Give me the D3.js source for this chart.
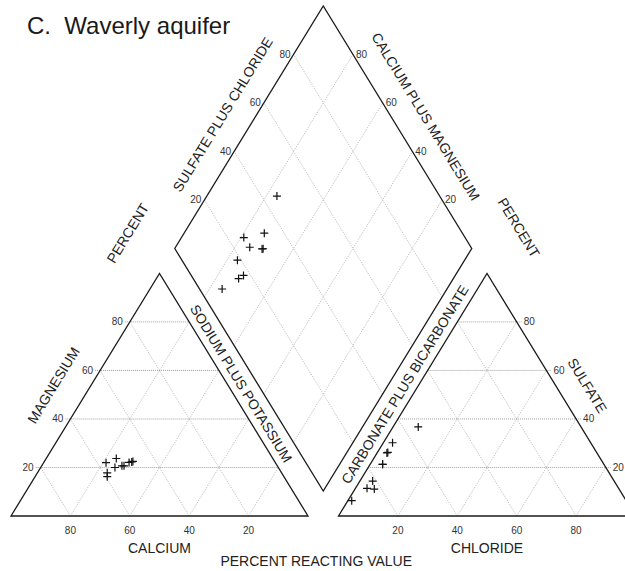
<!DOCTYPE html>
<html>
<head>
<meta charset="utf-8">
<script src="https://cdn.jsdelivr.net/npm/d3@7"></script>
<style>
  body { margin: 0; background: #fff; }
  svg { display: block; font-family: "Liberation Sans", Arial, sans-serif; }
</style>
</head>
<body>
<svg id="chart" width="625" height="571"></svg>
<script>
// Waverly aquifer samples, percent of total milliequivalents per liter
const calcium     = [52.7, 52.3, 57.0, 55.0, 47.7, 48.2, 58.7, 49.2, 51.6, 59.5];
const magnesium   = [23.7, 20.7, 22.0, 20.0, 22.5, 22.3, 17.8, 22.1, 20.7, 16.2];
const sodium      = [23.6, 27.0, 21.0, 25.0, 29.8, 29.5, 23.5, 28.7, 27.7, 24.3];
const bicarbonate = [54.8, 66.7, 74.5, 74.5, 70.3, 70.7, 81.3, 82.4, 84.7, 92.4];
const sulfate     = [36.7, 30.2, 21.3, 21.3, 26.2, 26.0, 14.4, 11.1, 11.4, 6.3];
const chloride    = [8.5, 3.1, 4.2, 4.2, 3.5, 3.3, 4.3, 6.5, 3.9, 1.3];

const gridTicks = [20, 40, 60, 80];

const H = Math.sqrt(3) / 2;
const GAP = 0.1027;          // space between the two triangles, in triangle sides
const OX = 1 + GAP;          // left corner of the anion triangle

const x = d3.scaleLinear().domain([0, 2 + GAP]).range([11, 11 + 297 * (2 + GAP)]);
const y = d3.scaleLinear().domain([0, H]).range([516, 273.4]);

const svg = d3.select('#chart');
svg.append('rect').attr('width', 625).attr('height', 571).attr('fill', '#fff');

function px(p) { return [x(p[0]), y(p[1])]; }

function cationXY(ca, mg, na) {
    const s = ca + mg + na;
    return px([(na + mg / 2) / s, (mg / s) * H]);
}
function anionXY(hco3, so4, cl) {
    const s = hco3 + so4 + cl;
    return px([OX + (cl + so4 / 2) / s, (so4 / s) * H]);
}
// a = sulfate plus chloride, c = calcium plus magnesium (fractions)
function diamondModel(a, c) {
    return [1 + GAP / 2 + 0.5 * (a - c), GAP * H + (a + c) * H];
}
function diamondXY(a, c) { return px(diamondModel(a, c)); }

const line = d3.line();

// --- grid lines
let gridH = [], gridD = [];
gridTicks.forEach(function(t) {
    const f = t / 100;
    // cation triangle
    gridH.push([px([f / 2, f * H]), px([1 - f / 2, f * H])]);
    gridD.push([px([f, 0]), px([f + (1 - f) / 2, (1 - f) * H])]);
    gridD.push([px([1 - f, 0]), px([(1 - f) / 2, (1 - f) * H])]);
    // anion triangle
    gridH.push([px([OX + f / 2, f * H]), px([OX + 1 - f / 2, f * H])]);
    gridD.push([px([OX + f, 0]), px([OX + f + (1 - f) / 2, (1 - f) * H])]);
    gridD.push([px([OX + 1 - f, 0]), px([OX + (1 - f) / 2, (1 - f) * H])]);
    // diamond
    gridD.push([diamondXY(f, 0), diamondXY(f, 1)]);
    gridD.push([diamondXY(0, f), diamondXY(1, f)]);
});
// horizontal lines poke out a little toward their labels
gridH = gridH.map(function(seg, i) {
    return i % 2 === 0
        ? [[seg[0][0] - 5, seg[0][1]], seg[1]]
        : [seg[0], [seg[1][0] + 5, seg[1][1]]];
});

const grid = svg.append('g').attr('fill', 'none');
grid.selectAll('path.gd').data(gridD).enter().append('path')
    .attr('class', 'gd')
    .attr('d', line)
    .attr('stroke', '#aaa').attr('stroke-width', 0.8)
    .attr('stroke-dasharray', '1,1.2');
grid.selectAll('path.gh').data(gridH).enter().append('path')
    .attr('class', 'gh')
    .attr('d', line)
    .attr('stroke', '#888').attr('stroke-width', 0.8)
    .attr('stroke-dasharray', '1,1');

// --- outlines
const outlines = [
    [[0, 0], [1, 0], [0.5, H]],
    [[OX, 0], [OX + 1, 0], [OX + 0.5, H]],
    [diamondModel(0, 1), diamondModel(0, 0), diamondModel(1, 0), diamondModel(1, 1)]
];
svg.append('g').selectAll('path').data(outlines).enter().append('path')
    .attr('d', function(d) { return line(d.map(px)) + 'Z'; })
    .attr('fill', 'none').attr('stroke', '#1a1a1a').attr('stroke-width', 1.3)
    .attr('stroke-linejoin', 'miter');

// --- tick labels
const ticks = svg.append('g').attr('font-size', 10).attr('fill', '#333');
gridTicks.forEach(function(t) {
    const f = t / 100;
    let p = px([f / 2, f * H]);
    ticks.append('text').attr('x', p[0] - 7).attr('y', p[1]).attr('dy', '0.35em')
        .attr('text-anchor', 'end').text(t);
    p = px([OX + 1 - f / 2, f * H]);
    ticks.append('text').attr('x', p[0] + 7).attr('y', p[1]).attr('dy', '0.35em')
        .attr('text-anchor', 'start').text(t);
    p = px([1 - f, 0]);
    ticks.append('text').attr('x', p[0]).attr('y', 533.5).attr('text-anchor', 'middle').text(t);
    p = px([OX + f, 0]);
    ticks.append('text').attr('x', p[0]).attr('y', 533.5).attr('text-anchor', 'middle').text(t);
    p = diamondXY(f, 1);
    ticks.append('text').attr('x', p[0] - 3).attr('y', p[1]).attr('dy', '0.35em')
        .attr('text-anchor', 'end').text(t);
    p = diamondXY(1, f);
    ticks.append('text').attr('x', p[0] + 3).attr('y', p[1]).attr('dy', '0.35em')
        .attr('text-anchor', 'start').text(t);
});

// --- axis titles
const titles = svg.append('g').attr('font-size', 14).attr('fill', '#222');

function edgeLabel(A, B, t, d, label) {
    const dx = B[0] - A[0], dy = B[1] - A[1], L = Math.hypot(dx, dy);
    const ux = dy / L, uy = -dx / L;
    const cx = A[0] + dx * t + ux * d, cy = A[1] + dy * t + uy * d;
    const ang = Math.atan2(dy, dx) * 180 / Math.PI;
    titles.append('text')
        .attr('transform', 'translate(' + cx + ',' + cy + ') rotate(' + ang + ')')
        .attr('text-anchor', 'middle').attr('dy', '0.35em')
        .text(label);
}

edgeLabel(px([0, 0]), px([0.5, H]), 0.47, 32, 'MAGNESIUM');
edgeLabel(px([OX + 0.5, H]), px([OX + 1, 0]), 0.52, 27, 'SULFATE');
edgeLabel(px([0.5, H]), px([1, 0]), 0.48, 12, 'SODIUM PLUS POTASSIUM');
edgeLabel(px([OX, 0]), px([OX + 0.5, H]), 0.516, 12, 'CARBONATE PLUS BICARBONATE');
edgeLabel(diamondXY(0, 1), diamondXY(1, 1), 0.49, 29, 'SULFATE PLUS CHLORIDE');
edgeLabel(diamondXY(1, 1), diamondXY(1, 0), 0.52, 29.5, 'CALCIUM PLUS MAGNESIUM');
edgeLabel(diamondXY(0, 1), diamondXY(1, 1), -0.04, 48, 'PERCENT');
edgeLabel(diamondXY(1, 1), diamondXY(1, 0), 1.024, 51, 'PERCENT');

titles.append('text').attr('x', x(0.5)).attr('y', 553).attr('text-anchor', 'middle').text('CALCIUM');
titles.append('text').attr('x', x(OX + 0.5)).attr('y', 553).attr('text-anchor', 'middle').text('CHLORIDE');
titles.append('text').attr('x', x(1 + GAP / 2) - 7).attr('y', 566).attr('text-anchor', 'middle')
    .text('PERCENT REACTING VALUE');

svg.append('text').attr('x', 27).attr('y', 33.5)
    .attr('font-size', 24).attr('fill', '#1a1a1a')
    .style('white-space', 'pre')
    .text('C.  Waverly aquifer');

// --- samples
const samples = calcium.map(function(ca, i) {
    return {ca: ca, mg: magnesium[i], na: sodium[i],
            hco3: bicarbonate[i], so4: sulfate[i], cl: chloride[i]};
});
const points = [];
samples.forEach(function(s) {
    const cs = s.ca + s.mg + s.na, as = s.hco3 + s.so4 + s.cl;
    points.push(cationXY(s.ca, s.mg, s.na));
    points.push(anionXY(s.hco3, s.so4, s.cl));
    points.push(diamondXY((s.so4 + s.cl) / as, (s.ca + s.mg) / cs));
});
svg.append('g').selectAll('path').data(points).enter().append('path')
    .attr('transform', function(d) { return 'translate(' + d[0] + ',' + d[1] + ')'; })
    .attr('d', 'M-4,0H4M0,-4V4')
    .attr('stroke', '#111').attr('stroke-width', 1.2).attr('fill', 'none');
</script>
</body>
</html>
